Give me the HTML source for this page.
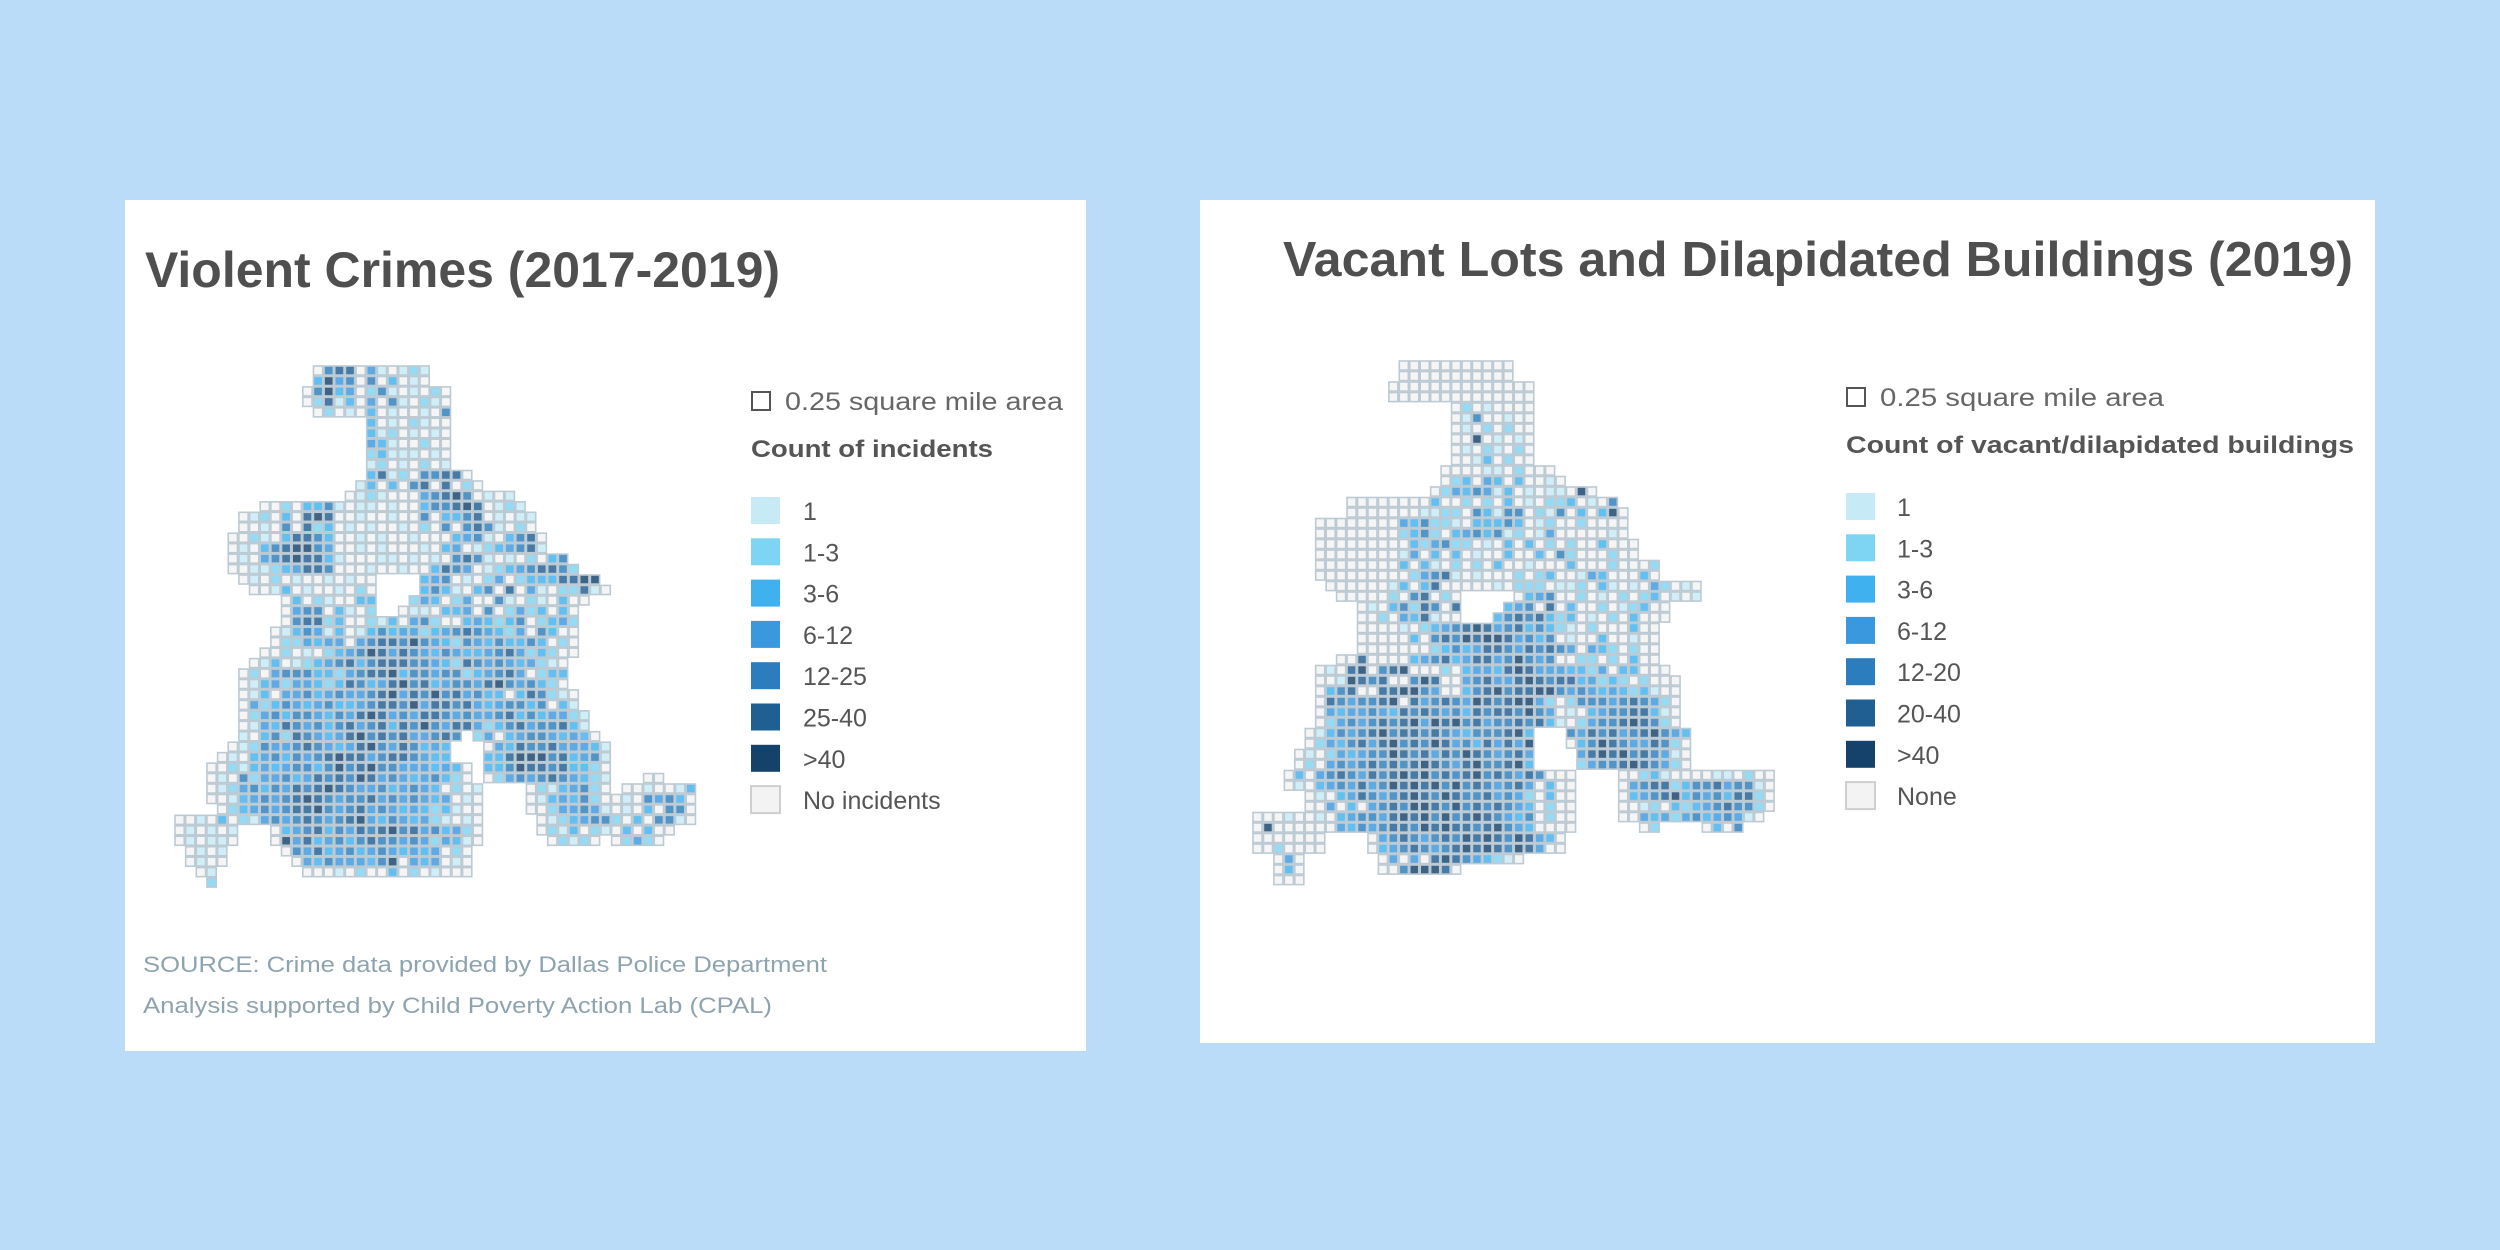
<!DOCTYPE html>
<html>
<head>
<meta charset="utf-8">
<style>
html,body{margin:0;padding:0;background:#bbdcf8;}
svg{display:block;}
text{font-family:"Liberation Sans",sans-serif;}
</style>
</head>
<body>
<svg id="root" width="2500" height="1250" viewBox="0 0 2500 1250" xmlns="http://www.w3.org/2000/svg">
  <rect x="0" y="0" width="2500" height="1250" fill="#bbdcf8"/>
  <g>
    <rect x="125" y="200" width="961" height="851" fill="#ffffff"/>
    <text x="145" y="287" font-size="50" font-weight="bold" fill="#4f4f4f" textLength="635" lengthAdjust="spacingAndGlyphs">Violent Crimes (2017-2019)</text>
    <g id="mapL" opacity="0.82"></g>
    <g id="legL"></g>
    <text x="143" y="972" font-size="22" fill="#8ea3b0" textLength="684" lengthAdjust="spacingAndGlyphs">SOURCE: Crime data provided by Dallas Police Department</text>
    <text x="143" y="1013" font-size="22" fill="#8ea3b0" textLength="629" lengthAdjust="spacingAndGlyphs">Analysis supported by Child Poverty Action Lab (CPAL)</text>
  </g>
  <g>
    <rect x="1200" y="200" width="1175" height="843" fill="#ffffff"/>
    <text x="1283" y="276" font-size="49" font-weight="bold" fill="#4f4f4f" textLength="1070" lengthAdjust="spacingAndGlyphs">Vacant Lots and Dilapidated Buildings (2019)</text>
    <g id="mapR" opacity="0.82"></g>
    <g id="legR"></g>
  </g>
</svg>
<script>
// level colours: 0 = none, 1..7 = bins
const palette = ["#f3f3f3","#c6ebf7","#7dd4f3","#3fb1ef","#3a98df","#2c7dbd","#1f5f92","#14426a"];
const leftLabels = ["1","1-3","3-6","6-12","12-25","25-40",">40","No incidents"];
const rightLabels = ["1","1-3","3-6","6-12","12-20","20-40",">40","None"];
const leftLegendTitle = "Count of incidents";
const rightLegendTitle = "Count of vacant/dilapidated buildings";

// each row: [startColumn, levels] ('.' = outside area)
const leftRows = [
[13,"05660410121"],[13,"37450503010"],[12,"05734025101020"],[12,"02613040510210"],[13,"0201030100105"],
[18,"30102100"],[18,"31201010"],[18,"43100200"],[18,"23111010"],[18,"12010201"],
[18,"3612055660"],[17,"130305606020"],[16,"0121000456750101"],[8,"0020335101101003556760121"],[6,"0120306760010010050335601011"],
[6,"0010506230101001020505651020"],[5,"002103665300101001000345103560"],[5,"010356775400101000103401234561"],[5,"01045676631000110101056510102035"],[5,"001123466500010010036540123456652"],
[6,"0102010010100....34501024023336677"],[7,"001301001020....353103506041022610"],[10,"030210033...24302400510210300"],[10,"045503102..01103340502423030"],[10,"0566230021304520034323502342"],
[9,"01354130135344234565432405300"],[9,"02243440456657543254353353020"],[8,"002010234576465435433456423200"],[7,"013012345635666554326545434210"],[6,"0204555332456673554552345640233"],
[6,"0134244323653467563455467545320"],[6,"01304453454456746575645330365210"],[6,"04235434533456657466564345535031"],[6,"024535543546764546654544563534421"],[6,"014365453564563657546642356455631"],
[6,"103526543467565644565.240345543430"],[5,"012544565434675465343...043655644431"],[4,"0103453545676645665433...336777563451"],[3,"0021343455357567554443430.335766563320"],[3,"0105244534656576454345320.024545654321...00"],
[3,"01245354656765445345430201....02134520.0010013"],[3,"00134545676545564545434010....0134352001054530"],[4,"0234545667545645434323100....0024454101030550"],[0,"00103021454565456743543421010.....012345520305510"],[0,"010101...03456354656756453420.....0213021030300"],
[0,"010110...07463453565545424310......02120.02420"],[1,"0101.....054634534543434020"],[1,"0100......04354443570434010"],[2,"01........0001020030201000"],[3,"2"]
];
const rightRows = [
[14,"00000000000"],[14,"00000000000"],[13,"00000000000000"],[13,"00000000000000"],[19,"02010000"],
[19,"01500100"],[19,"01020200"],[19,"00701010"],[19,"01021020"],[19,"00130200"],
[18,"00001102000"],[18,"023043030010"],[17,"0243541301011070"],[9,"00000000300202030102230105"],[9,"000000011220531550215030370"],
[6,"000000004352210333530120020000"],[6,"000000002352034535120140000010"],[6,"0000000003245220103030202003000"],[6,"0000000014030301003003052000200"],[6,"000000003031020203001000300020002"],
[6,"000000000245610100020230014300030"],[7,"000000130360000010222011203101042010"],[8,"000002056020.....034500201020230101"],[10,"0103526506....3450603002012300"],[10,"0020436100...35656323010203000"],
[10,"00001023456764563532102000300"],[10,"00000305657677645350100300100"],[10,"00000002353466546565404320200"],[8,"0060000345634664575450022020300"],[6,"0106705670002034436764443324033000"],
[6,"00176560057600456446765663423202000"],[6,"03560066775400356756677545434323100"],[6,"06545567064565476567742025554565420"],[6,"04344543656545365665754010345566310"],[6,"02454565674767564556563102455676520"],
[5,"0135456756656543555673...546564567543"],[5,"0243564675657645364647...035765446520"],[4,"01024345576564657654564....46767565410"],[4,"02045456565676546755673....24556765420"],[3,"0304565465676756567565465000....002310000110200"],
[3,"0103454645767675756545640300....045662355645510"],[5,"01034654567657655645420300....034567354536620"],[5,"00403045657765756565430200....001203234565520"],[0,"0001001034554676757567654350200....00434245345410"],[0,"0700000043545665767665675430000......02....0305"],
[0,"0000000....0456545657676576430"],[0,"0020000....0345654567676576400"],[2,"040.......04040676543210"],[2,"030.......00577760"],[2,"000"]
];

const NS = "http://www.w3.org/2000/svg";
function mk(tag, attrs, parent){
  const e = document.createElementNS(NS, tag);
  for (const k in attrs) e.setAttribute(k, attrs[k]);
  parent.appendChild(e);
  return e;
}

function drawMap(g, rows, x0, y0, px, py){
  const colX = c => x0 + c * px;
  const rowY = r => y0 + r * py;
  rows.forEach((row, r) => {
    const start = row[0], s = row[1];
    for (let i = 0; i < s.length; i++){
      const ch = s[i];
      if (ch === '.') continue;
      const lvl = +ch;
      const rect = mk('rect', {x: colX(start + i).toFixed(2), y: rowY(r).toFixed(2), width: (px - 1.4).toFixed(2), height: (py - 1.4).toFixed(2), fill: palette[lvl], stroke: "#aebfca", "stroke-width": 1.6}, g);
      
      
    }
  });
}

function drawLegend(g, x, y0, labels, title, textX, unitLen, titleLen){
  const box = mk('rect', {x: x + 1, y: y0 - 5, width: 18, height: 18, fill: "none", stroke: "#555", "stroke-width": 2}, g);
  
  
  const t0 = mk('text', {x: x + 34, y: y0 + 13, "font-size": 25, fill: "#666", textLength: unitLen, lengthAdjust: "spacingAndGlyphs"}, g);
  t0.textContent = "0.25 square mile area";
  
  
  const t1 = mk('text', {x: x, y: y0 + 60, "font-size": 24, "font-weight": "bold", fill: "#555", textLength: titleLen, lengthAdjust: "spacingAndGlyphs"}, g);
  t1.textContent = title;
  
  
  labels.forEach((lab, i) => {
    const lvl = (i + 1) % 8;
    const top = y0 + 100 + i * 41.3;
    const sw = mk('rect', {x: x, y: top, width: 29, height: 27, fill: palette[lvl], stroke: lvl === 0 ? "#cfcfcf" : "none", "stroke-width": 2}, g);
    
    
    const tx = mk('text', {x: textX, y: top + 23, "font-size": 25, fill: "#555"}, g);
    tx.textContent = lab;
    
    
  });
}

drawMap(document.getElementById('mapL'), leftRows, 175, 366, 10.65, 10.45);
drawMap(document.getElementById('mapR'), rightRows, 1253, 361, 10.45, 10.5);
drawLegend(document.getElementById('legL'), 751, 397, leftLabels, leftLegendTitle, 803, 278, 242);
drawLegend(document.getElementById('legR'), 1846, 393, rightLabels, rightLegendTitle, 1897, 284, 508);
</script>
</body>
</html>
